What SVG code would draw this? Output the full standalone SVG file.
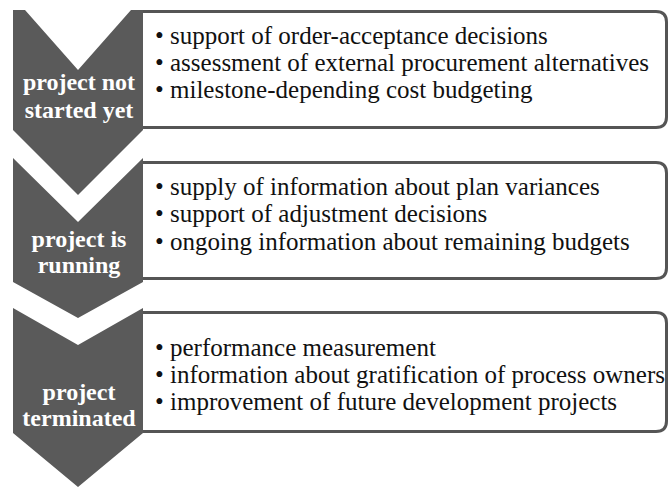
<svg xmlns="http://www.w3.org/2000/svg" width="669" height="490" viewBox="0 0 669 490">
<style>
.chev{fill:#5a5a5a}
.box{fill:#fff;stroke:#555;stroke-width:3}
.shadow{fill:none;stroke:#666;stroke-width:2}
.lbl{font-family:'Liberation Serif','Times New Roman',serif;font-weight:bold;font-size:24px;fill:#fff;text-anchor:middle}
.txt{font-family:'Liberation Serif','Times New Roman',serif;font-size:25px;fill:#111}
</style>
<rect width="669" height="490" fill="#fff"/>
<g id="stage1">
<path class="box" d="M143 11.5 H656 Q666.5 11.5 666.5 22 V117 Q666.5 127.5 656 127.5 H143"/>
<polygon class="chev" points="13,10 25,10 78,70 131,10 143,10 143,130 78,195 13,130"/>
<text class="lbl" x="79" y="90">project not</text>
<text class="lbl" x="79" y="118">started yet</text>
<text class="txt" x="155" y="44">• support of order-acceptance decisions</text>
<text class="txt" x="155" y="71">• assessment of external procurement alternatives</text>
<text class="txt" x="155" y="98">• milestone-depending cost budgeting</text>
</g>
<g id="stage2">
<path class="box" d="M143 162.5 H656 Q666.5 162.5 666.5 173 V268 Q666.5 278.5 656 278.5 H143"/>
<polygon class="chev" points="13,158 78,222 143,158 143,282 78,318 13,282"/>
<text class="lbl" x="79" y="247">project is</text>
<text class="lbl" x="79" y="273">running</text>
<text class="txt" x="155" y="195">• supply of information about plan variances</text>
<text class="txt" x="155" y="222">• support of adjustment decisions</text>
<text class="txt" x="155" y="250">• ongoing information about remaining budgets</text>
</g>
<g id="stage3">
<path class="box" d="M143 312.5 H656 Q666.5 312.5 666.5 323 V421 Q666.5 431.5 656 431.5 H143"/>
<polygon class="chev" points="13,308 78,345 143,308 143,433 78,487 13,433"/>
<text class="lbl" x="79" y="400">project</text>
<text class="lbl" x="79" y="426">terminated</text>
<text class="txt" x="155" y="356">• performance measurement</text>
<text class="txt" x="155" y="383">• information about gratification of process owners</text>
<text class="txt" x="155" y="410">• improvement of future development projects</text>
</g>
<g id="connectors"></g>
</svg>
